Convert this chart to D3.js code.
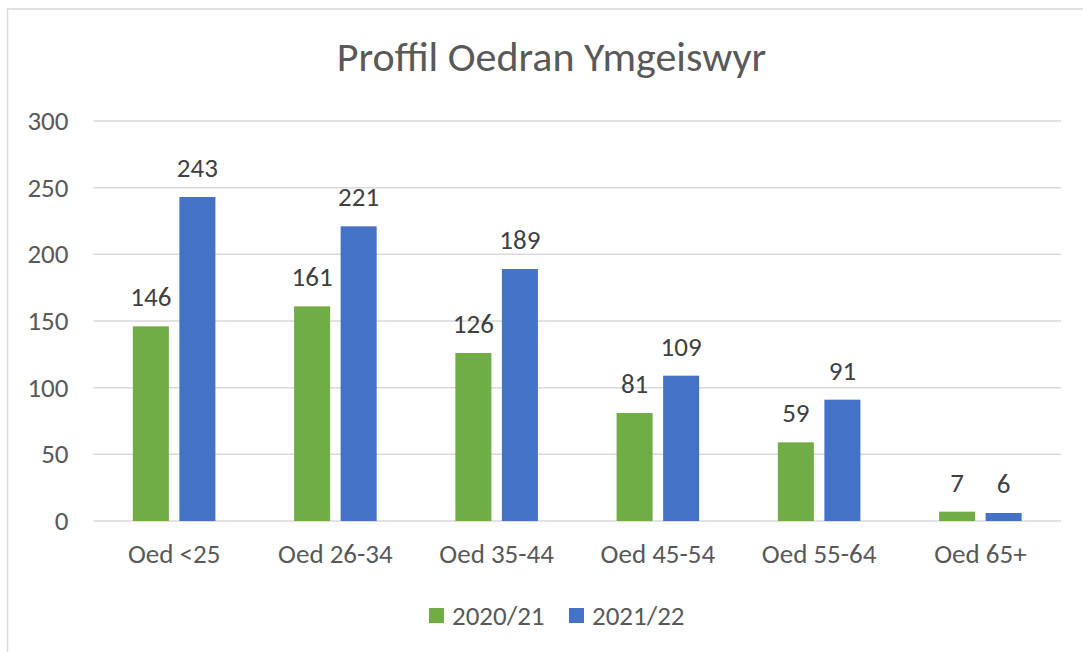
<!DOCTYPE html>
<html>
<head>
<meta charset="utf-8">
<script src="https://cdn.jsdelivr.net/npm/d3@7"></script>
<style>
  html, body { margin: 0; padding: 0; background: #fff; }
  svg { display: block; font-family: Carlito, Calibri, Lato, sans-serif; }
</style>
</head>
<body>
<div id="chart"></div>
<script>
(function() {
  const width = 1083;
  const height = 652;

  // ===== Data =====
  const categories = ["Oed <25", "Oed 26-34", "Oed 35-44", "Oed 45-54", "Oed 55-64", "Oed 65+"];
  const seriesNames = ["2020/21", "2021/22"];
  const values2020 = [146, 161, 126, 81, 59, 7];
  const values2021 = [243, 221, 189, 109, 91, 6];
  const yTicks = [0, 50, 100, 150, 200, 250, 300];
  const colors = ["#70ad47", "#4472c4"];

  const rows = categories.map((c, i) => ({
    cat: c,
    vals: [
      { key: seriesNames[0], value: values2020[i] },
      { key: seriesNames[1], value: values2021[i] },
    ]
  }));

  const margin = { top: 121, right: 22, bottom: 131, left: 93.5 };
  const plotW = width - margin.left - margin.right;
  const plotH = height - margin.top - margin.bottom;
  const fontSize = 27;

  const svg = d3.select("#chart").append("svg")
    .attr("width", width)
    .attr("height", height);

  // frame (cropped on right / bottom)
  svg.append("path")
    .attr("d", `M7.5,${height + 2} V9 H${width + 2}`)
    .attr("fill", "none")
    .attr("stroke", "#d9d9d9")
    .attr("stroke-width", 1.5);

  svg.append("text")
    .attr("x", 551.5)
    .attr("y", 71)
    .attr("text-anchor", "middle")
    .attr("fill", "#595959")
    .attr("font-size", 42)
    .text("Proffil Oedran Ymgeiswyr");

  const g = svg.append("g").attr("transform", `translate(${margin.left},${margin.top})`);

  const x0 = d3.scaleBand().domain(categories).range([0, plotW])
    .paddingInner(0.488).paddingOuter(0.244);
  const x1 = d3.scaleBand().domain(seriesNames).range([0, x0.bandwidth()]).paddingInner(0.226);
  const y = d3.scaleLinear().domain([0, 300]).range([plotH, 0]);

  // gridlines
  g.append("g")
    .selectAll("line")
    .data(yTicks)
    .join("line")
    .attr("x1", 0)
    .attr("x2", plotW)
    .attr("y1", d => y(d))
    .attr("y2", d => y(d))
    .attr("stroke", "#d9d9d9")
    .attr("stroke-width", 1.5);

  // y axis labels
  const yAxis = g.append("g")
    .call(d3.axisLeft(y).tickValues(yTicks).tickSize(0).tickPadding(25))
    .attr("font-family", null)
    .attr("font-size", null);
  yAxis.select(".domain").remove();
  yAxis.selectAll("text")
    .attr("fill", "#595959")
    .attr("font-size", fontSize);

  // x axis labels
  const xAxis = g.append("g")
    .attr("transform", `translate(0,${plotH})`)
    .call(d3.axisBottom(x0).tickSize(0).tickPadding(23))
    .attr("font-family", null)
    .attr("font-size", null);
  xAxis.select(".domain").remove();
  xAxis.selectAll("text")
    .attr("fill", "#595959")
    .attr("font-size", fontSize);

  // bars
  const groups = g.append("g")
    .selectAll("g")
    .data(rows)
    .join("g")
    .attr("transform", d => `translate(${x0(d.cat)},0)`);

  groups.selectAll("rect")
    .data(d => d.vals)
    .join("rect")
    .attr("x", d => x1(d.key))
    .attr("y", d => y(d.value))
    .attr("width", x1.bandwidth())
    .attr("height", d => plotH - y(d.value))
    .attr("fill", (d, i) => colors[i]);

  groups.selectAll("text")
    .data(d => d.vals)
    .join("text")
    .attr("x", d => x1(d.key) + x1.bandwidth() / 2)
    .attr("y", d => y(d.value) - 20)
    .attr("text-anchor", "middle")
    .attr("fill", "#404040")
    .attr("font-size", fontSize)
    .text(d => d.value);

  // legend
  const legendX = [429, 569];
  const legend = svg.append("g")
    .selectAll("g")
    .data(seriesNames)
    .join("g")
    .attr("transform", (d, i) => `translate(${legendX[i]},608)`);
  legend.append("rect")
    .attr("width", 15)
    .attr("height", 15)
    .attr("fill", (d, i) => colors[i]);
  legend.append("text")
    .attr("x", 23)
    .attr("y", 17)
    .attr("fill", "#595959")
    .attr("font-size", fontSize)
    .text(d => d);
})();
</script>
</body>
</html>
